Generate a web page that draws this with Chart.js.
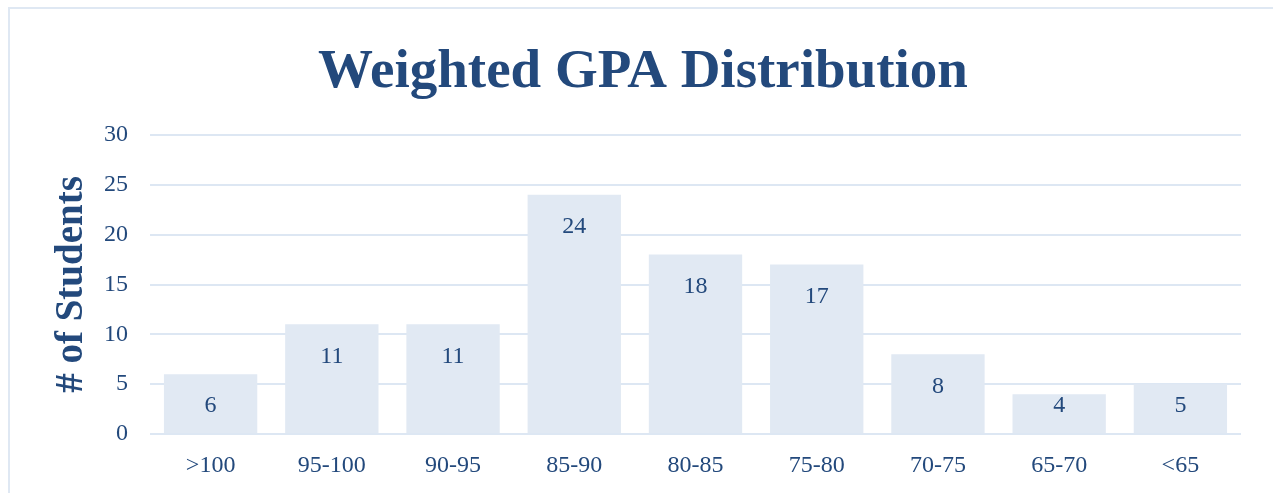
<!DOCTYPE html>
<html>
<head>
<meta charset="utf-8">
<script src="https://cdn.jsdelivr.net/npm/chart.js@4"></script>
<style>
  body { margin: 0; background: #fff; overflow: hidden; }
  #frame {
    position: absolute; left: 8px; top: 7px; width: 1400px; height: 600px;
    border: 2px solid #dfe8f3; box-sizing: border-box;
  }
  #wrap { position: absolute; left: 0; top: 0; width: 1273px; height: 493px; }
</style>
</head>
<body>
<div id="frame"></div>
<div id="wrap"><canvas id="myChart"></canvas></div>
<script>
const categories = [">100", "95-100", "90-95", "85-90", "80-85", "75-80", "70-75", "65-70", "<65"]
const students = [6, 11, 11, 24, 18, 17, 8, 4, 5]

const textColor = '#23497c'
const gridColor = '#dde7f3'
const barColor = '#e1e9f3'
const fontFamily = '"Liberation Serif", serif'

// value labels inside the top of each bar, kept above the base for short bars
const barLabels = {
    id: 'barLabels',
    afterDatasetsDraw(chart) {
        const ctx = chart.ctx
        const meta = chart.getDatasetMeta(0)
        ctx.save()
        ctx.fillStyle = textColor
        ctx.font = '24px ' + fontFamily
        ctx.textAlign = 'center'
        ctx.textBaseline = 'middle'
        meta.data.forEach((bar, i) => {
            const y = Math.min(bar.y + 32, bar.base - 27)
            ctx.fillText(students[i], bar.x, y)
        })
        ctx.restore()
    }
}

const ctx = document.querySelector("#myChart").getContext("2d")

new Chart(ctx, {
    type: 'bar',
    data: {
        labels: categories,
        datasets: [
            {
                data: students,
                backgroundColor: barColor,
                barPercentage: 0.77,
                categoryPercentage: 1,
            },
        ],
    },
    options: {
        responsive: true,
        maintainAspectRatio: false,
        animation: false,
        layout: {
            padding: { left: 45, right: 32, top: 0, bottom: 0 }
        },
        scales: {
            x: {
                grid: { display: false, drawTicks: false },
                border: { display: false },
                ticks: {
                    color: textColor,
                    padding: 17,
                    font: { family: fontFamily, size: 24 }
                },
                afterFit: (s) => { s.height = 59 }
            },
            y: {
                min: 0,
                max: 30,
                grid: { color: gridColor, lineWidth: 2, drawTicks: false },
                border: { display: false },
                ticks: {
                    stepSize: 5,
                    color: textColor,
                    padding: 22,
                    font: { family: fontFamily, size: 24 }
                },
                title: {
                    display: true,
                    text: '# of Students',
                    color: textColor,
                    padding: { top: 4, bottom: 0 },
                    font: { family: fontFamily, size: 39, weight: 'bold' }
                },
                afterFit: (s) => { s.width = 105 }
            }
        },
        plugins: {
            legend: { display: false },
            tooltip: { enabled: false },
            title: {
                display: true,
                text: 'Weighted GPA Distribution',
                color: textColor,
                padding: { top: 40, bottom: 29 },
                font: { family: fontFamily, size: 55, weight: 'bold' }
            }
        }
    },
    plugins: [barLabels]
})
</script>
</body>
</html>
